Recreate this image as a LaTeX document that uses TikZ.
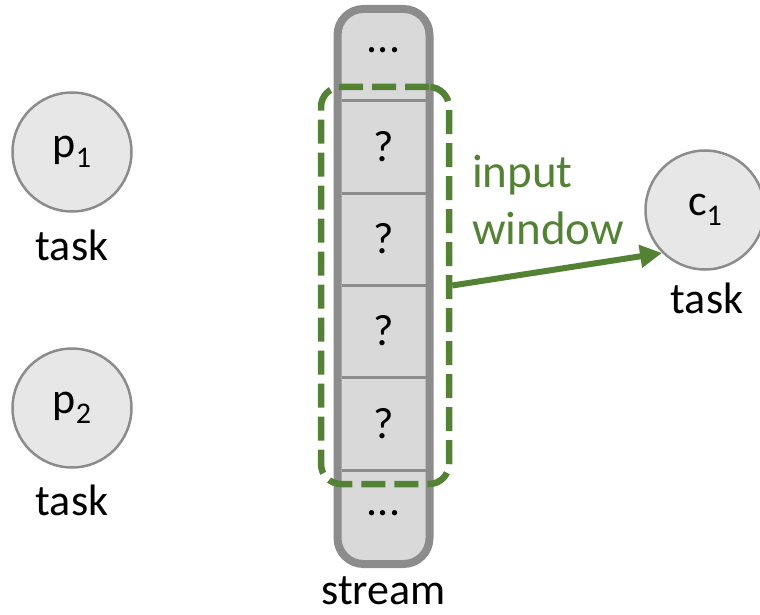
\documentclass[tikz,border=0pt]{standalone}
\usepackage{fontspec}
\setmainfont{Carlito}
\usetikzlibrary{arrows.meta}
\definecolor{rimgray}{HTML}{8C8C8C}
\definecolor{cellfill}{HTML}{D9D9D9}
\definecolor{taskfill}{HTML}{E7E7E7}
\definecolor{wingreen}{HTML}{548235}
\newcommand{\sbs}[1]{\raisebox{-0.22em}{\fontsize{30}{34}\selectfont #1}}
\tikzset{
  big/.style={font=\fontsize{44}{50}\selectfont},
  task/.style={circle, draw=rimgray, line width=2.5pt, fill=taskfill,
    minimum size=119pt, inner sep=0pt, big},
  tasklabel/.style={big, anchor=base},
  cell/.style={big, inner sep=0pt},
  divider/.style={draw=rimgray, line width=3pt},
}
\begin{document}
\begin{tikzpicture}[x=1pt,y=-1pt]
\useasboundingbox (0,0) rectangle (760,615);

% producer and consumer tasks
\node[task] (p1) at (72,152) {p\sbs{1}};
\node[tasklabel] (p1l) at (72,260) {task};
\node[task] (p2) at (72,408) {p\sbs{2}};
\node[tasklabel] (p2l) at (72,515) {task};
\node[task] (c1) at (705,210) {c\sbs{1}};
\node[tasklabel] (c1l) at (707,313) {task};

% the stream with its cells
\node[draw=rimgray, fill=cellfill, line width=8pt, rounded corners=26pt,
  minimum width=92pt, minimum height=555pt, inner sep=0pt] (stream) at (383.5,286.5) {};
\foreach \y in {101,193,285,377,470}
  \draw[divider] (341.5,\y) -- (425.5,\y);
\node[cell] (top) at (383.5,50) {...};
\node[cell] (q1) at (383.5,147) {?};
\node[cell] (q2) at (383.5,239) {?};
\node[cell] (q3) at (383.5,331) {?};
\node[cell] (q4) at (383.5,424) {?};
\node[cell] (bot) at (383.5,513) {...};
\node[tasklabel] (sl) at (383.5,604) {stream};

% input window
\node[draw=wingreen, line width=6.5pt, dash pattern=on 24pt off 9pt,
  rounded corners=20pt, minimum width=128pt, minimum height=397pt,
  inner sep=0pt] (win) at (385,285.5) {};
\node[font=\fontsize{47}{57}\selectfont, text=wingreen, align=left,
  anchor=north west, inner sep=0pt] (winl) at (472,155) {input\\window};
\draw[wingreen, line width=6pt, -{Triangle[length=22pt,width=22pt]}]
  (win.east) -- (c1.south west);
\end{tikzpicture}
\end{document}
